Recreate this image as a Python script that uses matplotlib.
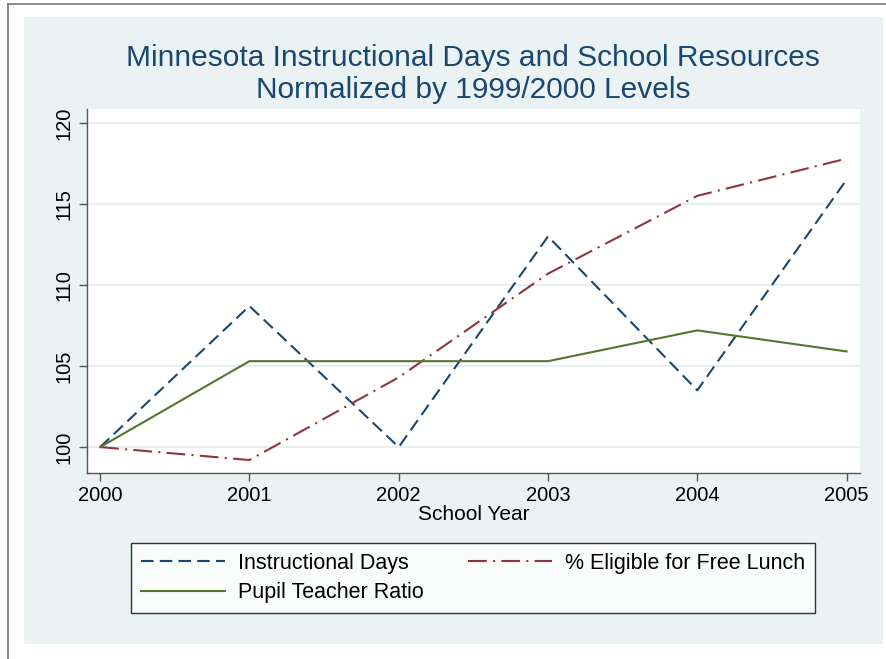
import matplotlib
matplotlib.use("Agg")
import matplotlib.pyplot as plt
from matplotlib.patches import Rectangle
from matplotlib.lines import Line2D

plt.rcParams['font.family'] = ['Liberation Sans', 'DejaVu Sans']

# data
years = [2000, 2001, 2002, 2003, 2004, 2005]
instr_days = [100.0, 108.7, 100.0, 113.0, 103.5, 116.5]
free_lunch = [100.0, 99.2, 104.3, 110.7, 115.5, 117.8]
pupil_teacher = [100.0, 105.3, 105.3, 105.3, 107.2, 105.9]
y_ticks = [100, 105, 110, 115, 120]

navy = "#1A476F"
maroon = "#90353B"
green = "#55752F"
bg = "#EAF2F3"

fig = plt.figure(figsize=(8.86, 6.59), dpi=100)
fig.patch.set_facecolor("white")

# light outer region + thin grey frame lines like the screenshot
fig.add_artist(Rectangle((24 / 886, 1 - 644 / 659), (883 - 24) / 886, (644 - 17) / 659,
                         transform=fig.transFigure, facecolor=bg, edgecolor="none", zorder=-10))
fig.add_artist(Line2D([8 / 886, 8 / 886], [0, 1 - 4 / 659], transform=fig.transFigure,
                      color="#777777", lw=1.2))
fig.add_artist(Line2D([8 / 886, 1], [1 - 4 / 659, 1 - 4 / 659], transform=fig.transFigure,
                      color="#777777", lw=1.2))

ax = fig.add_axes([87 / 886, 1 - 473 / 659, (860 - 87) / 886, (473 - 109) / 659])
ax.set_facecolor("white")

l1, = ax.plot(years, instr_days, color=navy, lw=1.5, dashes=(6, 3), label="Instructional Days")
l2, = ax.plot(years, free_lunch, color=maroon, lw=1.5, dashes=(9, 3, 1, 3),
              label="% Eligible for Free Lunch")
l3, = ax.plot(years, pupil_teacher, color=green, lw=1.5, label="Pupil Teacher Ratio")

ax.set_xlim(1999.912, 2005.09)
ax.set_ylim(98.4, 120.86)
ax.set_xticks(years)
ax.set_yticks(y_ticks)
ax.set_yticklabels([str(t) for t in y_ticks], rotation=90, va="center")
ax.grid(axis="y", color="#E6EEF0", lw=1.5)
ax.set_axisbelow(True)

for s in ["top", "right"]:
    ax.spines[s].set_visible(False)
for s in ["left", "bottom"]:
    ax.spines[s].set_color("#555555")
    ax.spines[s].set_linewidth(1.0)
ax.tick_params(axis="both", colors="#555555", labelcolor="black", labelsize=14.5,
               length=6, width=1.0)
ax.tick_params(axis="y", pad=4)

ax.set_xlabel("School Year", fontsize=15, labelpad=0)

fig.text(0.534, 1 - 58 / 659, "Minnesota Instructional Days and School Resources",
         ha="center", va="center", fontsize=21.5, color=navy)
fig.text(0.534, 1 - 90 / 659, "Normalized by 1999/2000 Levels",
         ha="center", va="center", fontsize=21.5, color=navy)

# column-wise fill: col 1 = days, pupil; col 2 = lunch
leg = fig.legend([l1, l3, l2], [l1.get_label(), l3.get_label(), l2.get_label()],
                 loc="upper left", bbox_to_anchor=(131 / 886, 1 - 543 / 659, (815 - 131) / 886, 0.0),
                 mode="expand", ncol=2, fontsize=15.5, handlelength=3.9, frameon=True,
                 fancybox=False, borderpad=0.45, borderaxespad=0, labelspacing=0.4,
                 handletextpad=0.6)
leg.get_frame().set_edgecolor("black")
leg.get_frame().set_linewidth(1.0)
leg.get_frame().set_facecolor("white")

fig.savefig("out.png", dpi=100, facecolor=fig.get_facecolor())
